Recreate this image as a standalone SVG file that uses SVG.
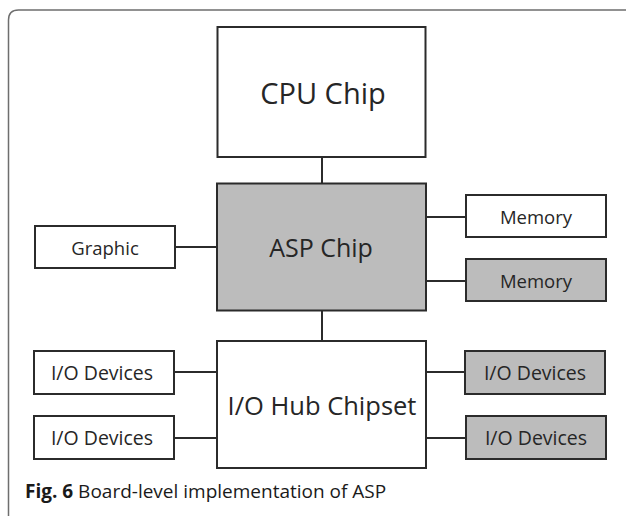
<svg xmlns="http://www.w3.org/2000/svg" width="626" height="516" viewBox="0 0 626 516">
<style>
.box{stroke:#2b2b2b;stroke-width:2}
.w{fill:#ffffff}
.g{fill:#bcbcbc}
.t{font-family:"Open Sans","Noto Sans",sans-serif;fill:#262626;text-anchor:middle;dominant-baseline:central}
.sm{font-size:18.5px}
.io{font-size:19.5px}
.con line{stroke:#2b2b2b;stroke-width:2}
</style>
<rect width="626" height="516" fill="#ffffff"/>
<path d="M8.5 516 V20 Q8.5 10 18.5 10 H626" fill="none" stroke="#6e6e6e" stroke-width="1.5"/>
<g class="con">
<line x1="322" y1="157" x2="322" y2="183"/>
<line x1="322" y1="310" x2="322" y2="341"/>
<line x1="175" y1="247" x2="217" y2="247"/>
<line x1="426" y1="217" x2="466" y2="217"/>
<line x1="426" y1="281" x2="466" y2="281"/>
<line x1="174" y1="372" x2="217" y2="372"/>
<line x1="174" y1="438" x2="217" y2="438"/>
<line x1="426" y1="372" x2="465" y2="372"/>
<line x1="426" y1="438" x2="466" y2="438"/>
</g>
<g id="cpu"><rect class="box w" x="217.5" y="27" width="208" height="130"/><text class="t" style="font-size:29px" x="323" y="92">CPU Chip</text></g>
<g id="asp"><rect class="box g" x="217" y="183.5" width="209" height="127"/><text class="t" style="font-size:25px" x="321" y="247">ASP Chip</text></g>
<g id="hub"><rect class="box w" x="217" y="341" width="209" height="127"/><text class="t" style="font-size:25.5px" x="322" y="405">I/O Hub Chipset</text></g>
<g id="graphic"><rect class="box w" x="35" y="226" width="140" height="42"/><text class="t sm" x="105" y="247">Graphic</text></g>
<g id="mem1"><rect class="box w" x="466" y="195" width="140" height="42"/><text class="t sm" x="536" y="216">Memory</text></g>
<g id="mem2"><rect class="box g" x="466" y="259" width="140" height="42"/><text class="t sm" x="536" y="280">Memory</text></g>
<g id="io1"><rect class="box w" x="34" y="351" width="140" height="43"/><text class="t io" x="102" y="372">I/O Devices</text></g>
<g id="io2"><rect class="box w" x="34" y="416" width="140" height="43"/><text class="t io" x="102" y="437">I/O Devices</text></g>
<g id="io3"><rect class="box g" x="465" y="351" width="140" height="43"/><text class="t io" x="535" y="372">I/O Devices</text></g>
<g id="io4"><rect class="box g" x="466" y="416" width="140" height="43"/><text class="t io" x="536" y="437">I/O Devices</text></g>
<text x="25" y="498" style="font-family:'Open Sans','Noto Sans',sans-serif;font-size:19px;fill:#1a1a1a"><tspan font-weight="bold">Fig. 6</tspan> Board-level implementation of ASP</text>
</svg>
